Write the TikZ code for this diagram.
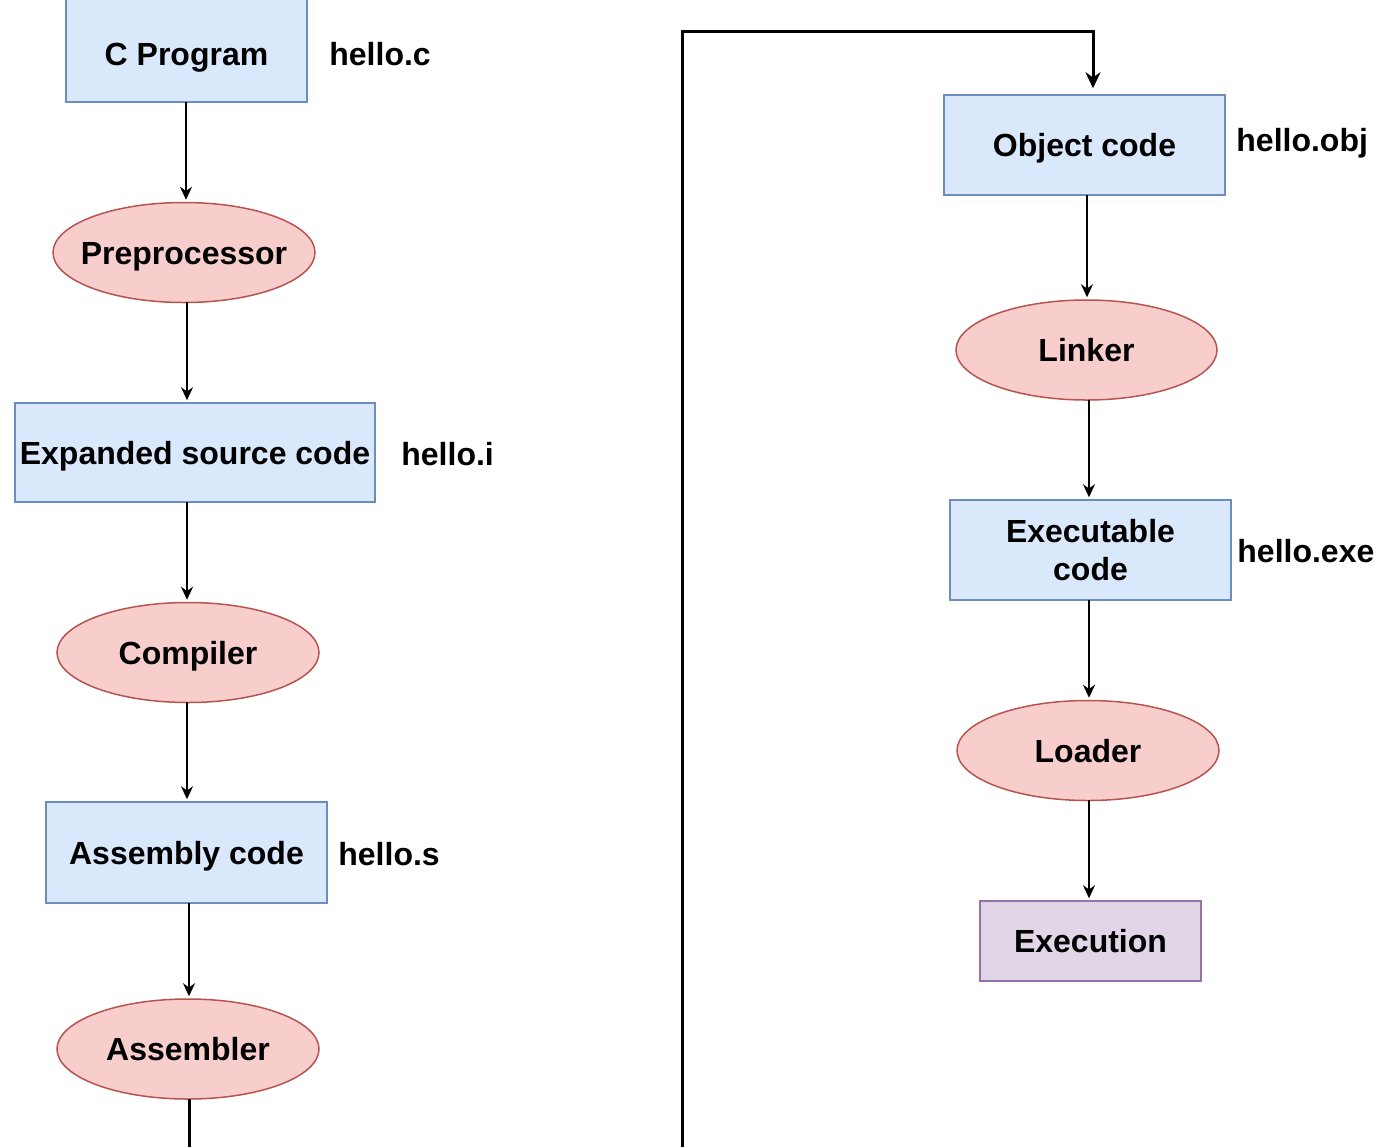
\documentclass[tikz,border=0pt]{standalone}
\usepackage{fontspec}
\setmainfont{Liberation Sans}
\usetikzlibrary{shapes.geometric,arrows.meta}
\definecolor{bfill}{HTML}{DAE8FC}
\definecolor{bstroke}{HTML}{6C8EBF}
\definecolor{rfill}{HTML}{F8CECC}
\definecolor{rstroke}{HTML}{B85450}
\definecolor{pfill}{HTML}{E1D5E7}
\definecolor{pstroke}{HTML}{9673A6}
\newcommand{\zw}[1]{\makebox[0pt]{#1}}
\begin{document}
\begin{tikzpicture}[x=0.5pt,y=-0.5pt,
  every node/.style={font=\fontsize{16}{19}\selectfont\bfseries,text height=11.5pt,text depth=0pt},
  box/.style={draw=bstroke,fill=bfill,line width=0.75pt,inner sep=0pt,align=center},
  pbox/.style={draw=pstroke,fill=pfill,line width=0.75pt,inner sep=0pt,align=center},
  oval/.style={ellipse,draw=rstroke,fill=rfill,line width=0.75pt,inner sep=0pt,minimum width=131pt,minimum height=50pt},
  lbl/.style={anchor=west,inner sep=0pt},
  flow/.style={-{Stealth[length=6.5pt,width=6pt]},line width=0.8pt,shorten >=1pt},
  heavy/.style={line width=1.5pt}
]
\useasboundingbox (0,0) rectangle (1378,1147);

% left column
\node[box,minimum width=120.5pt,minimum height=52pt,text height=15.4pt] (cprog) at (186.5,50) {C Program};
\node[lbl] (lc) at (329,54) {hello.c};
\node[oval] (pre) at (184,252.5) {\zw{Preprocessor}};
\node[box,minimum width=180pt,minimum height=49.5pt] (exp) at (195,452.5) {Expanded source code};
\node[lbl] (li) at (401,454) {hello.i};
\node[oval] (comp) at (188,652.5) {\zw{Compiler}};
\node[box,minimum width=140.5pt,minimum height=50.5pt] (asmc) at (186.5,852.5) {Assembly code};
\node[lbl] (ls) at (338,854) {hello.s};
\node[oval] (asm) at (188,1049) {\zw{Assembler}};

% right column
\node[box,minimum width=140.5pt,minimum height=50pt] (obj) at (1084.5,145) {Object code};
\node[lbl] (lo) at (1236,140) {hello.obj};
\node[oval,minimum width=130.5pt] (link) at (1086.5,350) {\zw{Linker}};
\node[box,minimum width=140.5pt,minimum height=50pt,text height=30.5pt] (exe) at (1090.5,550) {Executable\\code};
\node[lbl] (le) at (1237,551) {hello.exe};
\node[oval] (load) at (1088,750.5) {\zw{Loader}};
\node[pbox,minimum width=110.5pt,minimum height=40pt] (run) at (1090.5,941) {Execution};

% arrows left
\draw[flow] (186,102) coordinate (a1) -- (a1 |- pre.north);
\draw[flow] (187,302) coordinate (a2) -- (a2 |- exp.north);
\draw[flow] (187,502) coordinate (a3) -- (a3 |- comp.north);
\draw[flow] (187,702) coordinate (a4) -- (a4 |- asmc.north);
\draw[flow] (189,903) coordinate (a5) -- (a5 |- asm.north);

% arrows right
\draw[flow] (1087,195) coordinate (b1) -- (b1 |- link.north);
\draw[flow] (1089,400) coordinate (b2) -- (b2 |- exe.north);
\draw[flow] (1089,600) coordinate (b3) -- (b3 |- load.north);
\draw[flow] (1089,800) coordinate (b4) -- (b4 |- run.north);

% long connector
\coordinate (bl) at (189,1152);
\draw[heavy] (189,1099) -- (bl);
\coordinate (vb) at (682,1152);
\coordinate (vt) at (682,31);
\coordinate (vtr) at (1093,31);
\draw[heavy,-{Stealth[length=8pt,width=7.5pt]},shorten >=3pt] (vb) -- (vt) -- (vtr) -- (vtr |- obj.north);
\end{tikzpicture}
\end{document}
